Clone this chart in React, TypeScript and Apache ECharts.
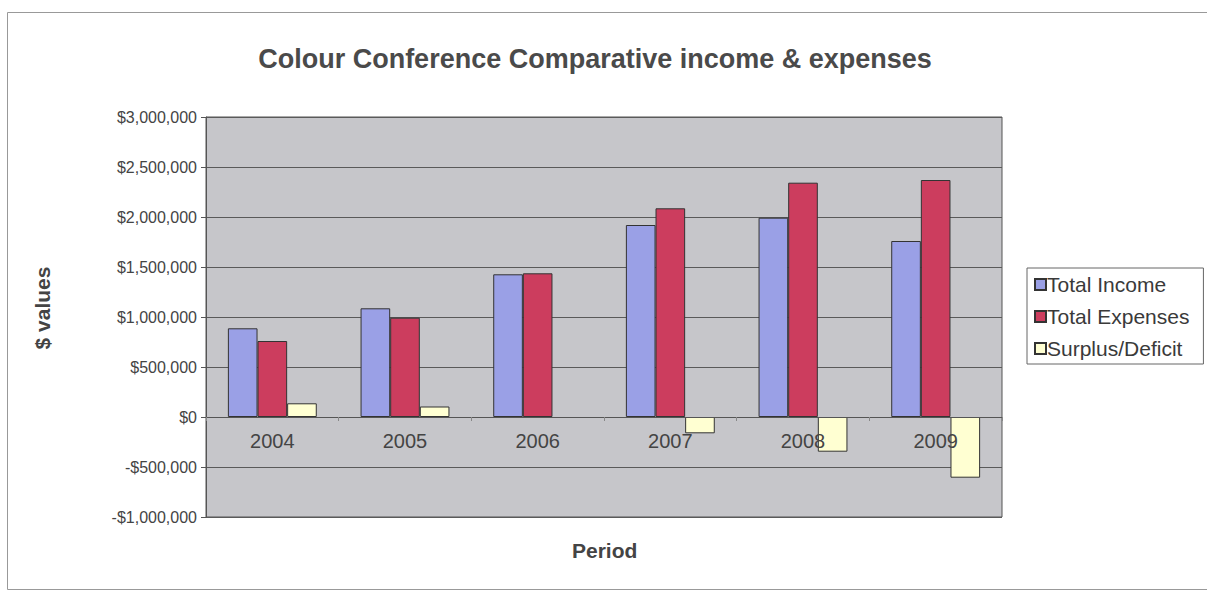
import React, { useEffect, useRef } from "react";
import * as echarts from "echarts";

const categories = ["2004", "2005", "2006", "2007", "2008", "2009"];
const totalIncome = [887000, 1087000, 1427000, 1920000, 1993000, 1760000];
const totalExpenses = [760000, 993000, 1437000, 2087000, 2343000, 2370000];
const surplusDeficit = [137000, 105000, -10000, -163000, -347000, -607000];
const seriesNames = ["Total Income", "Total Expenses", "Surplus/Deficit"];
const titleText = "Colour Conference Comparative income & expenses";
const yAxisTitle = "$ values";
const xAxisTitle = "Period";

const FONT = "'Liberation Sans', Arial, sans-serif";

function fmtMoney(v: number): string {
  const abs = Math.abs(v).toLocaleString("en-US");
  return (v < 0 ? "-$" : "$") + abs;
}

export default function App() {
  const ref = useRef<HTMLDivElement>(null);
  useEffect(() => {
    if (!ref.current) return;
    const chart = echarts.init(ref.current, undefined, { renderer: "svg" });
    chart.setOption({
      animation: false,
      backgroundColor: "#ffffff",
      textStyle: { fontFamily: FONT },
      title: {
        text: titleText,
        left: 590,
        textAlign: "center",
        top: 40,
        textStyle: { fontFamily: FONT, fontSize: 27, fontWeight: "bold", color: "#4a4a4a" },
      },
      legend: {
        orient: "vertical",
        left: 1027,
        top: 268,
        data: seriesNames,
        icon: "rect",
        itemWidth: 11,
        itemHeight: 11,
        itemGap: 11,
        padding: [6, 14, 5, 7],
        borderColor: "#666",
        borderWidth: 1,
        textStyle: { fontFamily: FONT, fontSize: 21, color: "#3a3a3a", padding: [0, 0, 0, -4] },
      },
      grid: {
        left: 206,
        right: 205,
        top: 117,
        bottom: 73,
        show: true,
        backgroundColor: "#c6c6ca",
        borderColor: "#555",
        borderWidth: 1,
      },
      xAxis: {
        type: "category",
        data: categories,
        position: "bottom",
        offset: -100,
        z: 5,
        axisLine: { onZero: false, lineStyle: { color: "#555", width: 1 } },
        axisTick: { show: true, length: 4, inside: false, lineStyle: { color: "#888" } },
        axisLabel: { fontFamily: FONT, fontSize: 20, color: "#444", margin: 14 },
      },
      yAxis: {
        type: "value",
        min: -1000000,
        max: 3000000,
        interval: 500000,
        axisLine: { show: true, lineStyle: { color: "#555" } },
        axisTick: { show: true, length: 5, lineStyle: { color: "#555" } },
        axisLabel: {
          fontFamily: FONT,
          fontSize: 16,
          color: "#444",
          margin: 9,
          formatter: (v: number) => fmtMoney(v),
        },
        splitLine: { show: true, lineStyle: { color: "#5a5a5a", width: 1 } },
      },
      graphic: [
        {
          type: "rect",
          left: 5,
          top: 10,
          shape: { width: 1250, height: 577 },
          style: { fill: "none", stroke: "#999", lineWidth: 1 },
          z: -10,
          silent: true,
        },
        {
          type: "text",
          left: 572,
          top: 540,
          style: { text: xAxisTitle, fontFamily: FONT, fontSize: 21, fontWeight: "bold", fill: "#444" },
        },
        {
          type: "text",
          x: 42,
          y: 308,
          rotation: Math.PI / 2,
          style: {
            text: yAxisTitle,
            fontFamily: FONT,
            fontSize: 21,
            fontWeight: "bold",
            fill: "#444",
            align: "center",
            verticalAlign: "middle",
          },
        },
      ],
      series: [
        {
          name: seriesNames[0],
          type: "bar",
          data: totalIncome,
          barGap: "0%",
          barCategoryGap: "33%",
          itemStyle: { color: "#9aa0e6", borderColor: "#333", borderWidth: 1 },
        },
        {
          name: seriesNames[1],
          type: "bar",
          data: totalExpenses,
          barGap: "0%",
          barCategoryGap: "33%",
          itemStyle: { color: "#cc3d5e", borderColor: "#333", borderWidth: 1 },
        },
        {
          name: seriesNames[2],
          type: "bar",
          data: surplusDeficit,
          barGap: "0%",
          barCategoryGap: "33%",
          itemStyle: { color: "#ffffd2", borderColor: "#333", borderWidth: 1 },
        },
      ],
    });
    return () => chart.dispose();
  }, []);
  return (
    <div
      ref={ref}
      style={{ position: "absolute", left: 0, top: 0, width: 1207, height: 590 }}
    />
  );
}
